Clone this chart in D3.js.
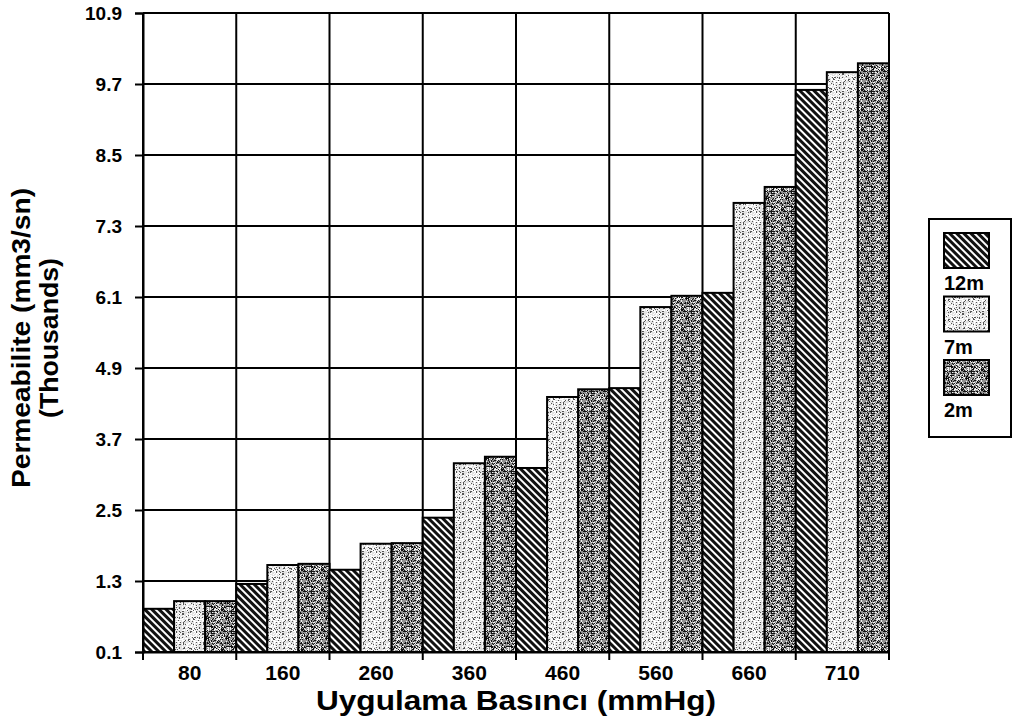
<!DOCTYPE html>
<html>
<head>
<meta charset="utf-8">
<script src="https://cdn.jsdelivr.net/npm/d3@7"></script>
<style>
  html, body { margin: 0; padding: 0; background: #fff; }
  svg { display: block; }
  text { font-family: "Liberation Sans", Arial, sans-serif; font-weight: bold; fill: #000; }
</style>
</head>
<body>
<svg id="chart" width="1012" height="724"></svg>
<script>
// ---- data ----
const categories = ["80", "160", "260", "360", "460", "560", "660", "710"];
const seriesNames = ["12m", "7m", "2m"];
const values12m = [0.83, 1.25, 1.49, 2.37, 3.21, 4.56, 6.17, 9.60];
const values7m  = [0.96, 1.57, 1.93, 3.29, 4.41, 5.93, 7.69, 9.90];
const values2m  = [0.96, 1.59, 1.94, 3.40, 4.54, 6.12, 7.96, 10.05];
const yTicks = [0.1, 1.3, 2.5, 3.7, 4.9, 6.1, 7.3, 8.5, 9.7, 10.9];
const xTitle = "Uygulama Basıncı (mmHg)";
const yTitle1 = "Permeabilite (mm3/sn)";
const yTitle2 = "(Thousands)";

const seriesValues = [values12m, values7m, values2m];

// ---- layout ----
const svg = d3.select("#chart");
const pL = 143, pR = 889, pT = 13, pB = 652;

const x = d3.scaleBand().domain(categories).range([pL, pR]).padding(0);
const xs = d3.scaleBand().domain(seriesNames).range([0, x.bandwidth()]).padding(0);
const y = d3.scaleLinear().domain([0.1, 10.9]).range([pB, pT]);

// ---- patterns ----
const defs = svg.append("defs");
const hatch = defs.append("pattern").attr("id", "p12m")
  .attr("patternUnits", "userSpaceOnUse").attr("width", 5).attr("height", 5)
  .attr("patternTransform", "rotate(-45)");
hatch.append("rect").attr("width", 5).attr("height", 5).attr("fill", "#fff");
hatch.append("rect").attr("x", 0).attr("width", 3).attr("height", 5).attr("fill", "#111");

function hash(i, j, s) {
  let h = (i * 374761393 + j * 668265263 + s * 2147483647) | 0;
  h = Math.imul(h ^ (h >>> 13), 1274126177);
  h = h ^ (h >>> 16);
  return ((h >>> 0) % 1000) / 1000;
}
function stipple(id, base, dot, thr, seed, light, lthr) {
  const n = 20;
  const p = defs.append("pattern").attr("id", id)
    .attr("patternUnits", "userSpaceOnUse").attr("width", n).attr("height", n);
  p.append("rect").attr("width", n).attr("height", n).attr("fill", base);
  for (let i = 0; i < n; i++) for (let j = 0; j < n; j++) {
    const h = hash(i, j, seed);
    if (h < thr) p.append("rect").attr("x", i).attr("y", j).attr("width", 1).attr("height", 1).attr("fill", dot);
    else if (light && h > 1 - lthr) p.append("rect").attr("x", i).attr("y", j).attr("width", 1).attr("height", 1).attr("fill", light);
  }
}
stipple("p7m", "#e2e2e2", "#555", 0.15, 3, "#fff", 0.3);
stipple("p2m", "#909090", "#111", 0.33, 7, "#f0f0f0", 0.22);
const fills = { "12m": "url(#p12m)", "7m": "url(#p7m)", "2m": "url(#p2m)" };

// ---- gridlines ----
const grid = svg.append("g");
grid.selectAll("line.h").data(yTicks).join("line").attr("class", "h")
  .attr("x1", pL).attr("x2", pR)
  .attr("y1", d => y(d)).attr("y2", d => y(d))
  .attr("stroke", "#000").attr("stroke-width", 2);
const bounds = categories.map(c => x(c)).concat([pR]);
grid.selectAll("line.v").data(bounds).join("line").attr("class", "v")
  .attr("x1", d => d).attr("x2", d => d)
  .attr("y1", pT).attr("y2", pB)
  .attr("stroke", "#000").attr("stroke-width", 2);

// ---- bars ----
const barData = [];
categories.forEach((c, ci) => seriesNames.forEach((s, si) => barData.push({ c, s, v: seriesValues[si][ci] })));
svg.append("g").selectAll("rect").data(barData).join("rect")
  .attr("x", d => x(d.c) + xs(d.s))
  .attr("width", xs.bandwidth())
  .attr("y", d => y(d.v))
  .attr("height", d => pB - y(d.v))
  .attr("fill", d => fills[d.s])
  .attr("stroke", "#000").attr("stroke-width", 2);

// ---- axes ----
const yAxis = svg.append("g").attr("transform", `translate(${pL},0)`)
  .call(d3.axisLeft(y).tickValues(yTicks).tickFormat(d3.format(".1f")).tickSize(8).tickPadding(13))
  .attr("font-size", 19).attr("font-family", "Liberation Sans, Arial, sans-serif").attr("font-weight", "bold");
yAxis.select(".domain").attr("stroke-width", 2);
yAxis.selectAll(".tick line").attr("stroke-width", 2);
yAxis.selectAll(".tick text").attr("font-size", 19).style("font-size", "19px");

const xAxis = svg.append("g").attr("transform", `translate(0,${pB})`)
  .call(d3.axisBottom(x).tickSize(0).tickPadding(13))
  .attr("font-size", 21).attr("font-family", "Liberation Sans, Arial, sans-serif").attr("font-weight", "bold");
xAxis.select(".domain").attr("stroke-width", 2);
xAxis.selectAll(".tick text").attr("font-size", 21).style("font-size", "21px");
svg.append("g").selectAll("line").data(bounds).join("line")
  .attr("x1", d => d).attr("x2", d => d)
  .attr("y1", pB).attr("y2", pB + 8)
  .attr("stroke", "#000").attr("stroke-width", 2);

// ---- titles ----
svg.append("text").attr("x", (pL + pR) / 2).attr("y", 710)
  .attr("text-anchor", "middle").style("font-size", "27px")
  .attr("textLength", 400).attr("lengthAdjust", "spacingAndGlyphs").text(xTitle);
svg.append("text").attr("transform", "translate(30,338) rotate(-90)")
  .attr("text-anchor", "middle").style("font-size", "25px")
  .attr("textLength", 300).attr("lengthAdjust", "spacingAndGlyphs").text(yTitle1);
svg.append("text").attr("transform", "translate(58,338) rotate(-90)")
  .attr("text-anchor", "middle").style("font-size", "25px")
  .attr("textLength", 160).attr("lengthAdjust", "spacingAndGlyphs").text(yTitle2);

// ---- legend ----
const lg = svg.append("g");
lg.append("rect").attr("x", 929).attr("y", 219).attr("width", 82).attr("height", 218)
  .attr("fill", "#fff").attr("stroke", "#000").attr("stroke-width", 2);
const ly = d3.scalePoint().domain(seriesNames).range([233, 360]);
lg.selectAll("rect.sw").data(seriesNames).join("rect").attr("class", "sw")
  .attr("x", 944).attr("y", d => ly(d)).attr("width", 45).attr("height", 35)
  .attr("fill", d => fills[d]).attr("stroke", "#000").attr("stroke-width", 2);
lg.selectAll("text.lt").data(seriesNames).join("text").attr("class", "lt")
  .attr("x", 944).attr("y", d => ly(d) + 57)
  .style("font-size", "20px").text(d => d);
</script>
</body>
</html>
